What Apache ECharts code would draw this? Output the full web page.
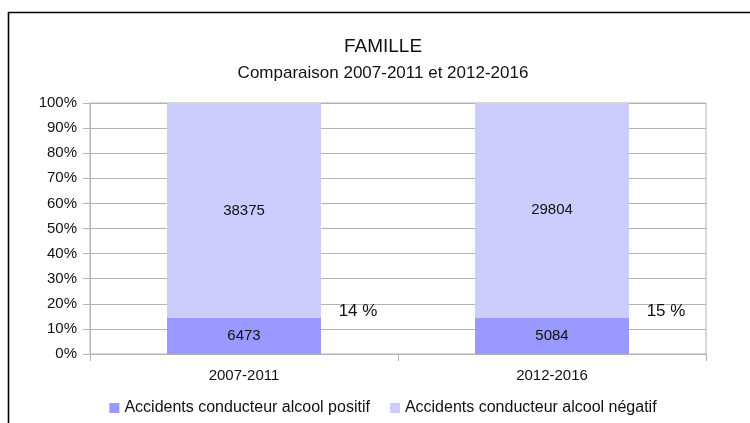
<!DOCTYPE html>
<html>
<head>
<meta charset="utf-8">
<script src="https://cdn.jsdelivr.net/npm/echarts@6/dist/echarts.min.js"></script>
<style>
  html, body { margin: 0; padding: 0; background: #fff; overflow: hidden; }
  #famille { width: 766px; height: 423px; }
</style>
</head>
<body>
<div id="famille"></div>
<script>
// categories and values
const periods = ['2007-2011', '2012-2016'];
const alcoolPositif = [6473, 5084];
const alcoolNegatif = [38375, 29804];
const partLabels = ['14 %', '15 %'];
const yTicks = [0, 10, 20, 30, 40, 50, 60, 70, 80, 90, 100];

// share of each category total, for the 100% stacked bars
const totals = periods.map((p, i) => alcoolPositif[i] + alcoolNegatif[i]);
const positifPct = alcoolPositif.map((v, i) => v / totals[i] * 100);
const negatifPct = alcoolNegatif.map((v, i) => v / totals[i] * 100);

const txt = '#111';
const gris = '#b3b3b3';
const font = "'Liberation Sans', Arial, sans-serif";

let myChart = echarts.init(document.getElementById('famille'), null, { renderer: 'canvas' });

myChart.setOption({
  animation: false,
  textStyle: { fontFamily: font, color: txt },
  graphic: [{
    type: 'rect',
    silent: true,
    shape: { x: 8.5, y: 12.5, width: 900, height: 600 },
    style: { fill: 'none', stroke: '#000', lineWidth: 1.6 }
  }],
  title: {
    text: 'FAMILLE',
    subtext: 'Comparaison 2007-2011 et 2012-2016',
    left: 'center',
    top: 32,
    itemGap: 9,
    textStyle: { fontFamily: font, fontSize: 19, fontWeight: 'normal', color: txt },
    subtextStyle: { fontFamily: font, fontSize: 17, color: txt }
  },
  legend: {
    bottom: 2,
    left: 'center',
    itemWidth: 10,
    itemHeight: 10,
    itemGap: 20,
    icon: 'rect',
    textStyle: { fontFamily: font, fontSize: 16, color: txt },
    data: ['Accidents conducteur alcool positif', 'Accidents conducteur alcool négatif']
  },
  grid: {
    left: 90,
    right: 60,
    top: 103,
    bottom: 69,
    show: true,
    borderColor: gris,
    borderWidth: 1
  },
  xAxis: {
    type: 'category',
    data: periods,
    axisLine: { lineStyle: { color: gris, width: 1 } },
    axisTick: { show: true, length: 7, lineStyle: { color: gris } },
    axisLabel: { fontFamily: font, fontSize: 15, color: txt, margin: 14 },
    splitLine: { show: false }
  },
  yAxis: {
    type: 'value',
    min: yTicks[0],
    max: yTicks[yTicks.length - 1],
    interval: 10,
    axisLine: { show: true, lineStyle: { color: gris, width: 1 } },
    axisTick: { show: true, length: 7, lineStyle: { color: gris } },
    axisLabel: { fontFamily: font, fontSize: 15, color: txt, margin: 13, formatter: '{value}%' },
    splitLine: { show: true, lineStyle: { color: gris, width: 1 } }
  },
  series: [
    {
      name: 'Accidents conducteur alcool positif',
      type: 'bar',
      stack: 'total',
      barWidth: '50%',
      itemStyle: { color: '#9999ff' },
      label: {
        show: true,
        position: 'inside',
        fontFamily: font,
        fontSize: 15,
        color: txt,
        formatter: p => alcoolPositif[p.dataIndex]
      },
      markPoint: {
        symbol: 'rect',
        symbolSize: 1,
        itemStyle: { color: 'rgba(0,0,0,0)' },
        label: {
          show: true,
          position: 'inside',
          offset: [114, 0],
          fontFamily: font,
          fontSize: 17,
          color: txt,
          formatter: p => p.name
        },
        data: periods.map((p, i) => ({ name: partLabels[i], coord: [p, 17] }))
      },
      data: positifPct
    },
    {
      name: 'Accidents conducteur alcool négatif',
      type: 'bar',
      stack: 'total',
      barWidth: '50%',
      itemStyle: { color: '#ccccff' },
      label: {
        show: true,
        position: 'inside',
        fontFamily: font,
        fontSize: 15,
        color: txt,
        formatter: p => alcoolNegatif[p.dataIndex]
      },
      data: negatifPct
    }
  ]
});

window.addEventListener('resize', () => {
  myChart.resize();
});
</script>
</body>
</html>
